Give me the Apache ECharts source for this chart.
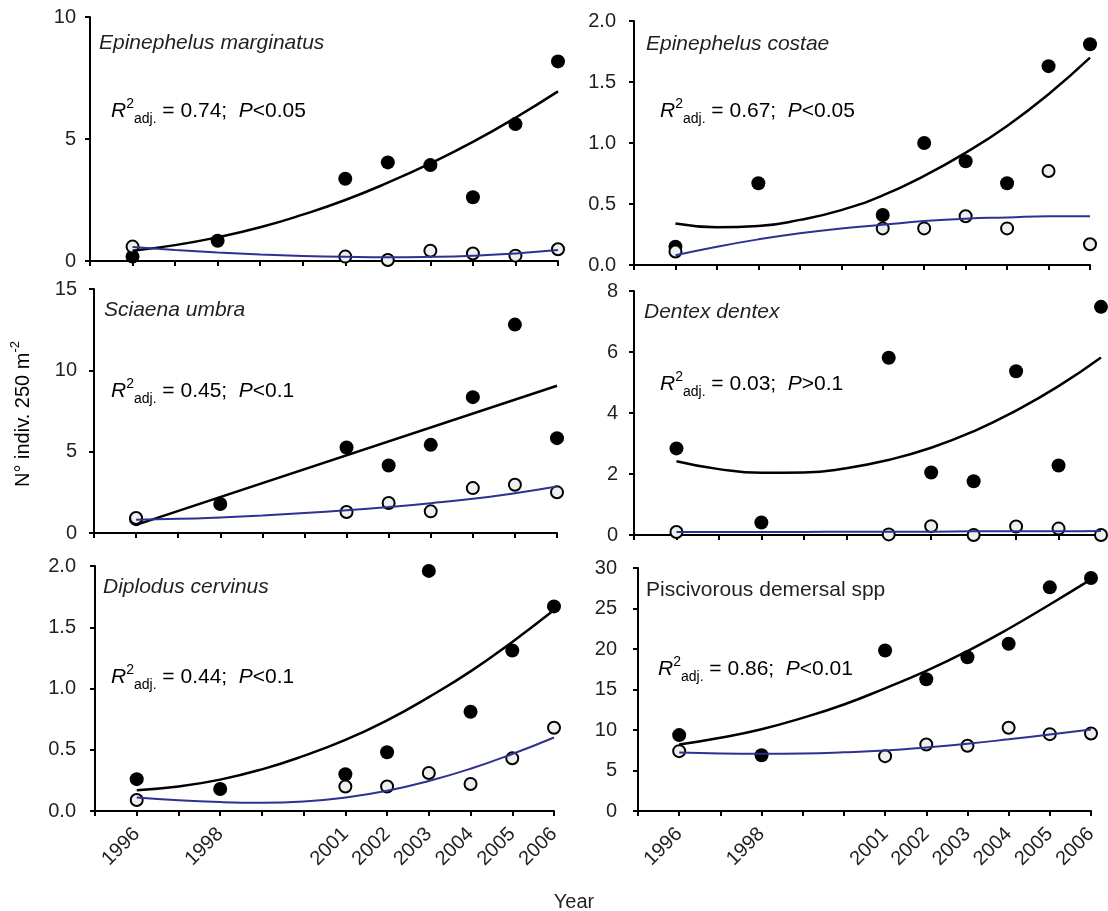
<!DOCTYPE html>
<html>
<head>
<meta charset="utf-8">
<script src="https://cdn.jsdelivr.net/npm/echarts@6/dist/echarts.min.js"></script>
<style>
  html, body { margin: 0; padding: 0; background: #fff; }
  #main { width: 1108px; height: 911px; }
</style>
</head>
<body>
<div id="main"></div>
<script>
// years with data
const years = [1996, 1998, 2001, 2002, 2003, 2004, 2005, 2006];
const openYears = [1996, 2001, 2002, 2003, 2004, 2005, 2006];
const fitYears = [1996, 1997, 1998, 1999, 2000, 2001, 2002, 2003, 2004, 2005, 2006];
const lineYears = [1996, 2006];
const tickLabelYears = [1996, 1998, 2001, 2002, 2003, 2004, 2005, 2006];

// Epinephelus marginatus
const filled1 = [0.18, 0.83, 3.37, 4.04, 3.93, 2.61, 5.61, 8.18];
const open1 = [0.59, 0.18, 0.04, 0.42, 0.31, 0.22, 0.48];
const fitFilled1 = [0.42, 0.65, 0.97, 1.38, 1.9, 2.5, 3.21, 4.0, 4.88, 5.87, 6.95];
const fitOpen1 = [0.57, 0.45, 0.35, 0.27, 0.21, 0.17, 0.15, 0.17, 0.22, 0.31, 0.45];

// Epinephelus costae
const filled2 = [0.15, 0.67, 0.41, 1.0, 0.85, 0.67, 1.63, 1.81];
const open2 = [0.11, 0.3, 0.3, 0.4, 0.3, 0.77, 0.17];
const fitFilled2 = [0.34, 0.31, 0.32, 0.37, 0.45, 0.57, 0.73, 0.92, 1.14, 1.4, 1.7];
const fitOpen2 = [0.08, 0.15, 0.21, 0.26, 0.3, 0.33, 0.36, 0.38, 0.39, 0.4, 0.4];

// Sciaena umbra
const filled3 = [0.85, 1.78, 5.26, 4.15, 5.42, 8.35, 12.81, 5.83];
const open3 = [0.92, 1.29, 1.84, 1.33, 2.76, 2.97, 2.5];
const fitFilled3 = [0.5, 9.05];
const fitOpen3 = [0.82, 0.87, 0.96, 1.08, 1.23, 1.4, 1.6, 1.83, 2.1, 2.45, 2.86];

// Dentex dentex
const filled4 = [2.84, 0.41, 5.81, 2.05, 1.76, 5.37, 2.28, 7.48];
const open4 = [0.1, 0.02, 0.29, 0.0, 0.28, 0.21, 0.0];
const fitFilled4 = [2.42, 2.16, 2.04, 2.05, 2.19, 2.46, 2.86, 3.4, 4.08, 4.88, 5.82];
const fitOpen4 = [0.1, 0.1, 0.1, 0.1, 0.11, 0.11, 0.11, 0.12, 0.12, 0.12, 0.13];

// Diplodus cervinus
const filled5 = [0.26, 0.18, 0.3, 0.48, 1.96, 0.81, 1.31, 1.67];
const open5 = [0.09, 0.2, 0.2, 0.31, 0.22, 0.43, 0.68];
const fitFilled5 = [0.17, 0.2, 0.256, 0.34, 0.45, 0.58, 0.74, 0.93, 1.14, 1.38, 1.64];
const fitOpen5 = [0.11, 0.087, 0.073, 0.068, 0.078, 0.11, 0.165, 0.245, 0.345, 0.465, 0.6];

// Piscivorous demersal spp
const filled6 = [9.37, 6.89, 19.81, 16.26, 18.98, 20.64, 27.61, 28.77];
const open6 = [7.39, 6.77, 8.21, 8.05, 10.28, 9.49, 9.57];
const fitFilled6 = [8.21, 9.05, 10.1, 11.5, 13.15, 15.15, 17.3, 19.75, 22.5, 25.5, 28.6];
const fitOpen6 = [7.22, 7.1, 7.06, 7.1, 7.25, 7.48, 7.85, 8.3, 8.85, 9.45, 10.07];

const titles = ['Epinephelus marginatus', 'Epinephelus costae', 'Sciaena umbra', 'Dentex dentex', 'Diplodus cervinus', 'Piscivorous demersal spp'];
const r2 = ['0.74', '0.67', '0.45', '0.03', '0.44', '0.86'];
const pText = ['<0.05', '<0.05', '<0.1', '>0.1', '<0.1', '<0.01'];
const yMax = [10, 2, 15, 8, 2, 30];
const yStep = [5, 0.5, 5, 2, 0.5, 5];
const yDecimals = [0, 1, 0, 0, 1, 0];

const panels = [
  { filled: filled1, open: open1, fitF: fitFilled1, fitFx: fitYears, fitO: fitOpen1 },
  { filled: filled2, open: open2, fitF: fitFilled2, fitFx: fitYears, fitO: fitOpen2 },
  { filled: filled3, open: open3, fitF: fitFilled3, fitFx: lineYears, fitO: fitOpen3 },
  { filled: filled4, open: open4, fitF: fitFilled4, fitFx: fitYears, fitO: fitOpen4 },
  { filled: filled5, open: open5, fitF: fitFilled5, fitFx: fitYears, fitO: fitOpen5 },
  { filled: filled6, open: open6, fitF: fitFilled6, fitFx: fitYears, fitO: fitOpen6 },
];

// layout of each panel (plot area)
const boxes = [
  { left: 90, top: 17, width: 468, height: 244 },
  { left: 634, top: 21, width: 456, height: 244 },
  { left: 94, top: 289, width: 463, height: 244 },
  { left: 634, top: 291, width: 467, height: 244 },
  { left: 95, top: 566, width: 459, height: 245 },
  { left: 638, top: 568, width: 453, height: 243 },
];
const yLabelMargin = [14, 18, 17, 16, 19, 21];
const titlePos = [[99, 43], [646, 44], [104, 310], [644, 312], [103, 587], [646, 590]];
const r2Pos = [[111, 111], [660, 111], [111, 391], [660, 384], [111, 677], [658, 669]];

const FONT = 'Liberation Sans, Arial, sans-serif';
const TEXT = '#231f20';
const BLUE = '#2e3192';

const chart = echarts.init(document.getElementById('main'));

const grid = [];
const xAxis = [];
const yAxis = [];
const series = [];
const graphic = [];

const zip = (xs, ys) => xs.map((x, i) => [x, ys[i]]);

panels.forEach((p, i) => {
  const b = boxes[i];
  const bottomRow = i >= 4;
  grid.push({ left: b.left, top: b.top, width: b.width, height: b.height });
  xAxis.push({
    gridIndex: i,
    type: 'value',
    min: 1995,
    max: 2006,
    interval: 1,
    axisLine: { show: true, onZero: false, lineStyle: { color: '#000', width: 2 } },
    axisTick: { show: true, length: 5, lineStyle: { color: '#000', width: 2 } },
    splitLine: { show: false },
    axisLabel: {
      show: bottomRow,
      rotate: 45,
      margin: 20,
      color: TEXT,
      fontFamily: FONT,
      fontSize: 20,
      formatter: v => (tickLabelYears.indexOf(v) >= 0 ? String(v) : ''),
    },
  });
  yAxis.push({
    gridIndex: i,
    type: 'value',
    min: 0,
    max: yMax[i],
    interval: yStep[i],
    axisLine: { show: true, lineStyle: { color: '#000', width: 2 } },
    axisTick: { show: true, length: 5, lineStyle: { color: '#000', width: 2 } },
    splitLine: { show: false },
    axisLabel: {
      margin: yLabelMargin[i],
      color: TEXT,
      fontFamily: FONT,
      fontSize: 20,
      formatter: v => v.toFixed(yDecimals[i]),
    },
  });

  series.push({
    type: 'scatter',
    xAxisIndex: i,
    yAxisIndex: i,
    data: zip(years, p.filled),
    symbol: 'circle',
    symbolSize: 14,
    itemStyle: { color: '#000', opacity: 1 },
    z: 2,
  });
  series.push({
    type: 'scatter',
    xAxisIndex: i,
    yAxisIndex: i,
    data: zip(openYears, p.open),
    symbol: 'circle',
    symbolSize: 12,
    itemStyle: { color: '#eef0ef', borderColor: '#000', borderWidth: 2, opacity: 1 },
    z: 3,
  });
  series.push({
    type: 'line',
    xAxisIndex: i,
    yAxisIndex: i,
    data: zip(p.fitFx, p.fitF),
    smooth: 0.5,
    showSymbol: false,
    lineStyle: { color: '#000', width: 2.5 },
    z: 4,
  });
  series.push({
    type: 'line',
    xAxisIndex: i,
    yAxisIndex: i,
    data: zip(fitYears, p.fitO),
    smooth: 0.5,
    showSymbol: false,
    lineStyle: { color: BLUE, width: 2 },
    z: 5,
  });

  graphic.push({
    type: 'text',
    x: titlePos[i][0],
    y: titlePos[i][1],
    style: {
      text: titles[i],
      font: (i === 5 ? '' : 'italic ') + '21px ' + FONT,
      fill: TEXT,
      verticalAlign: 'middle',
    },
  });
  graphic.push({
    type: 'text',
    x: r2Pos[i][0],
    y: r2Pos[i][1],
    style: {
      text: '{it|R}{sup|2}{sub|adj.}{n| = ' + r2[i] + ';  }{it|P}{n|' + pText[i] + '}',
      verticalAlign: 'middle',
      rich: {
        it: { fontFamily: FONT, fontStyle: 'italic', fontSize: 21, color: TEXT, lineHeight: 32 },
        n: { fontFamily: FONT, fontSize: 21, color: TEXT, lineHeight: 32 },
        sup: { fontFamily: FONT, fontSize: 14, color: TEXT, verticalAlign: 'top', padding: [2, 0, 0, 0] },
        sub: { fontFamily: FONT, fontSize: 14, color: TEXT, verticalAlign: 'bottom', padding: [0, 0, 1, 0] },
      },
    },
  });
});

// shared axis titles
graphic.push({
  type: 'text',
  x: 23,
  y: 414,
  rotation: Math.PI / 2,
  style: {
    text: '{n|N° indiv. 250 m}{sup|-2}',
    align: 'center',
    verticalAlign: 'middle',
    rich: {
      n: { fontFamily: FONT, fontSize: 20, color: TEXT, lineHeight: 28 },
      sup: { fontFamily: FONT, fontSize: 13, color: TEXT, verticalAlign: 'top' },
    },
  },
});
graphic.push({
  type: 'text',
  x: 574,
  y: 902,
  style: {
    text: 'Year',
    font: '20px ' + FONT,
    fill: TEXT,
    align: 'center',
    verticalAlign: 'middle',
  },
});

chart.setOption({
  animation: false,
  backgroundColor: '#fff',
  grid,
  xAxis,
  yAxis,
  series,
  graphic,
});
</script>
</body>
</html>
